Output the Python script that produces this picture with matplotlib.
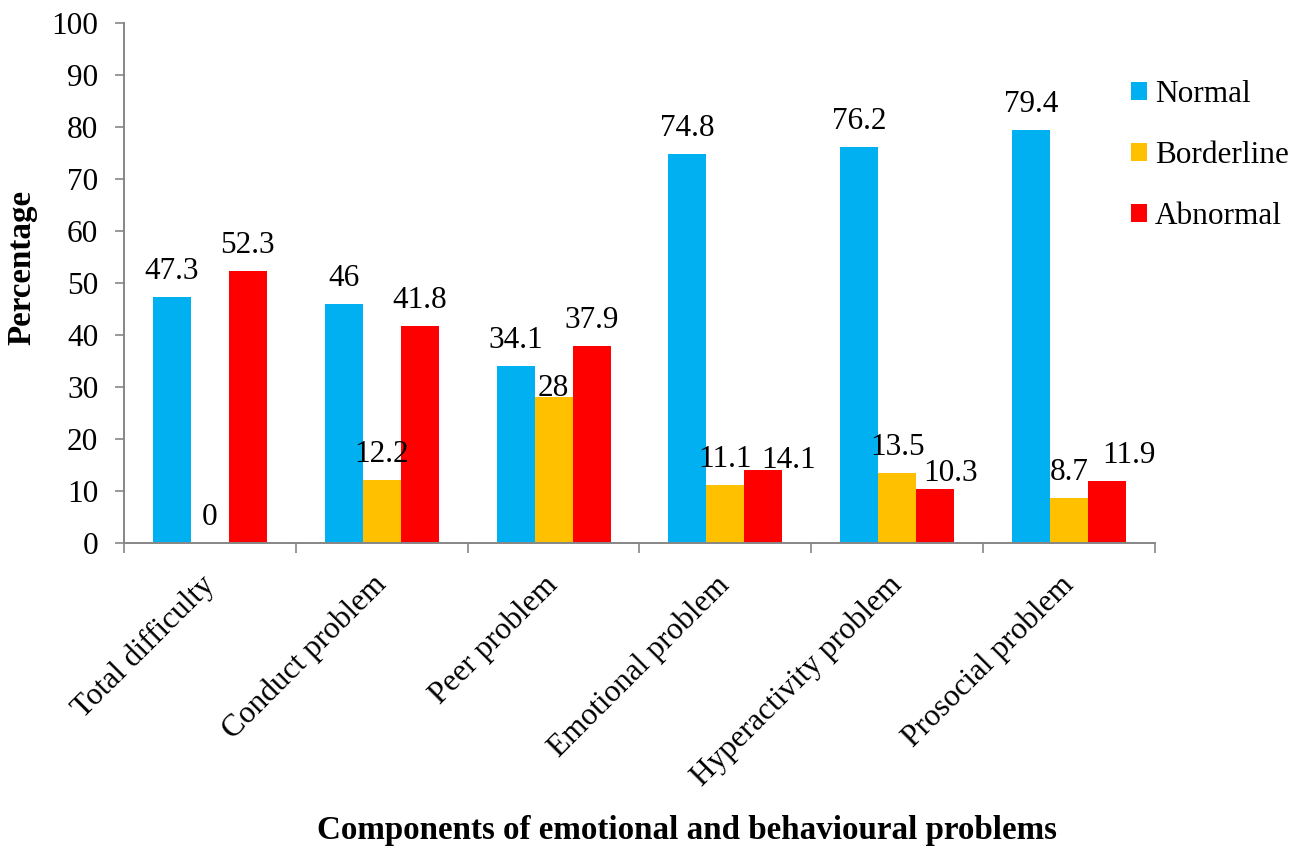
import numpy as np
import matplotlib
matplotlib.use('Agg')
import matplotlib.pyplot as plt
from matplotlib.ticker import FixedLocator

plt.rcParams['font.family'] = ['Liberation Serif', 'DejaVu Serif']

categories = ['Total difficulty', 'Conduct problem', 'Peer problem',
              'Emotional problem', 'Hyperactivity problem', 'Prosocial problem']
normal = [47.3, 46, 34.1, 74.8, 76.2, 79.4]
borderline = [0, 12.2, 28, 11.1, 13.5, 8.7]
abnormal = [52.3, 41.8, 37.9, 14.1, 10.3, 11.9]
series_names = ['Normal', 'Borderline', 'Abnormal']
colors = ['#00B0F0', '#FFC000', '#FF0000']

# label nudges (dx, dy in points) for a few crowded labels
nudges = {
    (1, 2): (0, -12),
    (2, 3): (18, -12),
    (2, 4): (11, -7),
    (2, 5): (16, 0),
}

FS = 22.5
FS_TITLE = 23.8
fig = plt.figure(figsize=(13.05, 8.49), dpi=100)
ax = fig.add_axes([124 / 1305, 1 - 543 / 849, (1155 - 124) / 1305, (543 - 23) / 849])

x = np.arange(len(categories))
w = 0.221
for i, (vals, name, c) in enumerate(zip([normal, borderline, abnormal], series_names, colors)):
    pos = x + (i - 1) * w
    ax.bar(pos, vals, width=w, color=c, label=name, linewidth=0)
    for j, (px, v) in enumerate(zip(pos, vals)):
        dx, dy = nudges.get((i, j), (0, 0))
        ax.annotate(f'{v:g}', (px, v), xytext=(dx, 13 + dy), textcoords='offset points',
                    ha='center', va='baseline', fontsize=FS)

ax.set_xlim(-0.5, len(categories) - 0.5)
ax.set_ylim(0, 100)
ax.set_yticks(range(0, 101, 10))
ax.tick_params(axis='y', labelsize=FS, length=6.5, width=1.2, color='#868686', pad=12)

# category boundary ticks and centred labels
ax.xaxis.set_major_locator(FixedLocator(np.arange(-0.5, len(categories), 1)))
ax.set_xticklabels([])
ax.xaxis.set_minor_locator(FixedLocator(x))
ax.set_xticklabels(categories, minor=True, rotation=45, ha='right', va='center',
                   rotation_mode='anchor', fontsize=FS)
ax.tick_params(axis='x', which='major', length=7, width=1.2, color='#868686')
ax.tick_params(axis='x', which='minor', length=0, pad=27)

for s in ['top', 'right']:
    ax.spines[s].set_visible(False)
for s in ['left', 'bottom']:
    ax.spines[s].set_color('#868686')
    ax.spines[s].set_linewidth(1.4)

ax.set_ylabel('Percentage', fontsize=FS_TITLE, fontweight='bold')
ax.yaxis.set_label_coords((37 - 124) / 1031, 0.529)
fig.text(687 / 1305, 1 - 830 / 849, 'Components of emotional and behavioural problems',
         ha='center', va='center', fontsize=FS_TITLE, fontweight='bold')

ax.legend(loc='upper left', bbox_to_anchor=(1131 / 1305, 1 - 80 / 849),
          bbox_transform=fig.transFigure, frameon=False, fontsize=FS,
          handlelength=0.52, handleheight=0.52, handletextpad=0.25,
          labelspacing=1.03, borderpad=0, borderaxespad=0)

fig.savefig('out.png', dpi=100)
